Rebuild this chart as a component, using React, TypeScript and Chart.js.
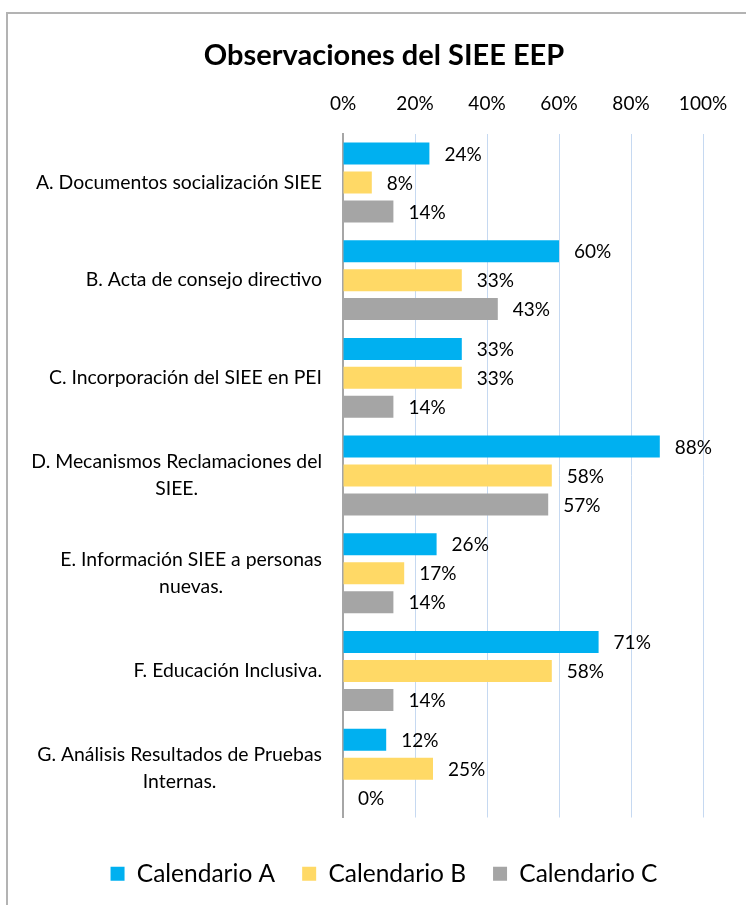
import React, { useEffect, useRef } from "react";
import { Chart, registerables } from "chart.js";

Chart.register(...registerables);

const categories: string[][] = [
  ["A. Documentos socialización SIEE"],
  ["B. Acta de consejo directivo"],
  ["C. Incorporación del SIEE en PEI"],
  ["D. Mecanismos Reclamaciones del", "SIEE."],
  ["E. Información SIEE a personas", "nuevas."],
  ["F. Educación Inclusiva."],
  ["G. Análisis Resultados de Pruebas", "Internas."],
];
const seriesNames = ["Calendario A", "Calendario B", "Calendario C"];
const calendarioA = [24, 60, 33, 88, 26, 71, 12];
const calendarioB = [8, 33, 33, 58, 17, 58, 25];
const calendarioC = [14, 43, 14, 57, 14, 14, 0];
const colors = ["#00B0F0", "#FFD966", "#A5A5A5"];
const tickValues = [0, 20, 40, 60, 80, 100];

const FONT = "Lato, 'Open Sans', sans-serif";

const valueLabels = {
  id: "valueLabels",
  afterDatasetsDraw(chart: any) {
    const ctx = chart.ctx;
    ctx.save();
    ctx.font = `19px ${FONT}`;
    ctx.fillStyle = "#000";
    ctx.textAlign = "left";
    ctx.textBaseline = "middle";
    chart.data.datasets.forEach((ds: any, i: number) => {
      const meta = chart.getDatasetMeta(i);
      meta.data.forEach((el: any, j: number) => {
        ctx.fillText(`${ds.data[j]}%`, el.x + 15, el.y + 1);
      });
    });
    ctx.restore();
  },
};

const categoryLabels = {
  id: "categoryLabels",
  afterDraw(chart: any) {
    const ctx = chart.ctx;
    const yScale = chart.scales.y;
    const right = chart.chartArea.left - 21;
    const lineH = 27;
    ctx.save();
    ctx.font = `19.4px ${FONT}`;
    ctx.fillStyle = "#000";
    ctx.textAlign = "center";
    ctx.textBaseline = "middle";
    (chart.data.labels as string[][]).forEach((lines, i) => {
      const yc = yScale.getPixelForValue(i);
      const w = Math.max(...lines.map((l) => ctx.measureText(l).width));
      const cx = right - w / 2;
      const y0 = yc - ((lines.length - 1) * lineH) / 2;
      lines.forEach((l, k) => ctx.fillText(l, cx, y0 + k * lineH));
    });
    ctx.restore();
  },
};

export default function App() {
  const ref = useRef<HTMLCanvasElement | null>(null);
  useEffect(() => {
    document.body.style.overflow = "hidden";
    const chart = new Chart(ref.current!, {
      type: "bar",
      data: {
        labels: categories,
        datasets: [calendarioA, calendarioB, calendarioC].map((d, i) => ({
          label: seriesNames[i],
          data: d,
          backgroundColor: colors[i],
          borderWidth: 0,
          categoryPercentage: 0.889,
          barPercentage: 0.76,
        })),
      },
      options: {
        indexAxis: "y",
        animation: false,
        responsive: false,
        maintainAspectRatio: false,
        layout: { padding: { top: 20, right: 57, bottom: 10, left: 57 } },
        plugins: {
          title: {
            display: true,
            text: "Observaciones del SIEE EEP",
            color: "#000",
            font: { family: FONT, size: 29, weight: "bold" },
            padding: { top: 4, bottom: 2 },
          },
          legend: {
            position: "bottom",
            title: {
              display: true,
              text: "",
              font: { size: 1, lineHeight: 1 },
              padding: { top: 16, bottom: 0 },
            },
            labels: {
              color: "#000",
              font: { family: FONT, size: 24.5 },
              boxWidth: 14,
              boxHeight: 14,
              padding: 27,
            },
          },
          tooltip: { enabled: false },
        },
        scales: {
          x: {
            position: "top",
            min: 0,
            max: 100,
            afterBuildTicks: (axis: any) => {
              axis.ticks = tickValues.map((v) => ({ value: v }));
            },
            ticks: {
              color: "#000",
              font: { family: FONT, size: 19 },
              padding: 18,
              callback: (v: any) => `${v}%`,
            },
            grid: { color: "#C6D9F1", lineWidth: 1, drawTicks: false },
            border: { display: false },
          },
          y: {
            ticks: { display: false },
            afterFit: (axis: any) => {
              axis.width = 278;
            },
            grid: { display: false, drawTicks: false },
            border: { display: true, color: "#A6A6A6", width: 2 },
          },
        },
      },
      plugins: [valueLabels, categoryLabels],
    });
    return () => chart.destroy();
  }, []);
  return (
    <div
      style={{
        position: "fixed",
        left: 6,
        top: 12,
        width: 760,
        height: 900,
        borderLeft: "2px solid #B3B3B3",
        borderTop: "2px solid #B3B3B3",
        background: "#fff",
      }}
    >
      <canvas ref={ref} width={752} height={892} style={{ display: "block" }} />
    </div>
  );
}
